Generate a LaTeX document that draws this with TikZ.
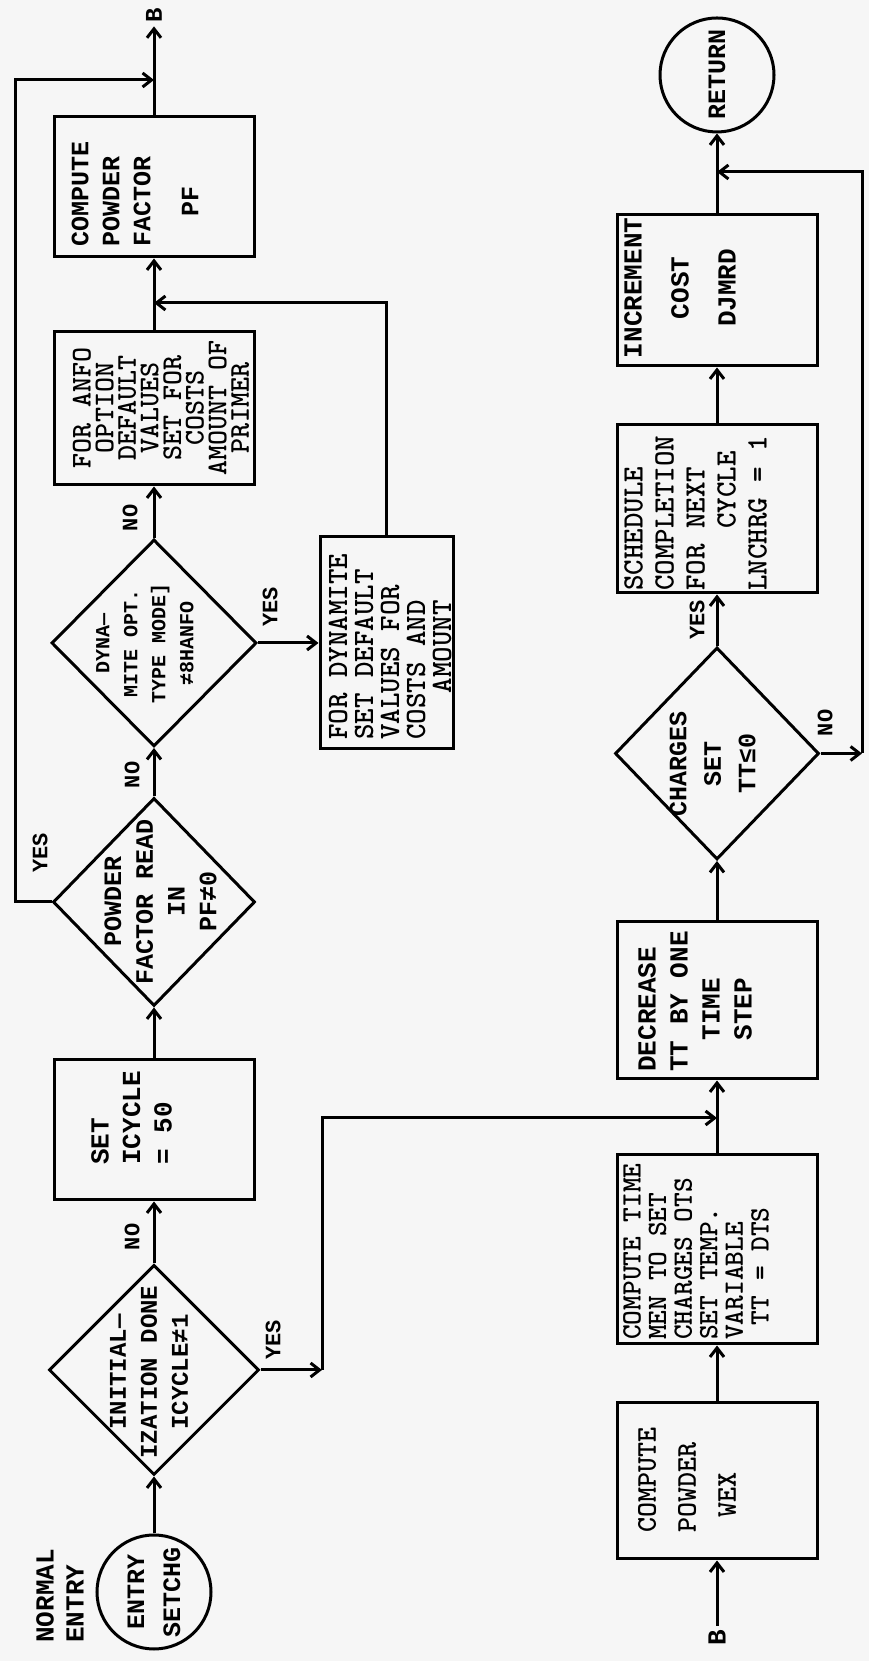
\documentclass[tikz,border=0pt]{standalone}
\usepackage{fontspec}
\newfontfamily\mono{Liberation Mono}
\usetikzlibrary{shapes.geometric,arrows.meta}
\definecolor{bg}{RGB}{246,246,246}
\tikzset{
  arr/.style={line width=3pt,-{Straight Barb[length=9pt,width=14pt]}},
  box/.style={draw,line width=3pt,rectangle,inner sep=0pt},
  dia/.style={draw,line width=3pt,diamond,inner sep=0pt},
  term/.style={draw,line width=3pt,circle,inner sep=0pt,minimum size=114pt},
  txt/.style n args={3}{font={\mono#1\fontsize{#2}{#3}\selectfont},inner sep=0pt},
  ctxt/.style n args={2}{font={\ttfamily\bfseries\fontsize{#1}{#2}\selectfont},inner sep=0pt},
  lab/.style={font={\mono\bfseries\fontsize{22}{22}\selectfont},inner sep=0pt},
}
\begin{document}
\begin{tikzpicture}[x=1pt,y=1pt,rotate=90,transform shape]
\path[use as bounding box,fill=bg] (0,0) rectangle (1661,-869);

% ---------- upper row ----------
\node[txt={\bfseries}{26}{30},align=left,anchor=west] (nentry) at (18,-60) {NORMAL\\ENTRY};
\node[term,txt={\bfseries}{25}{36},align=center] (entry) at (69,-154) {ENTRY\\SETCHG};
\node[dia,minimum width=210pt,minimum height=210pt] (d1) at (291,-154) {};
\node[txt={\bfseries}{24}{31},align=center] (d1t) at (289,-149) {INITIAL—\\IZATION DONE\\ICYCLE≠1};
\node[box,minimum width=140pt,minimum height=200pt] (set) at (531,-154) {};
\node[txt={\bfseries}{26}{31.5},align=left,anchor=west] (sett) at (496,-131.5) {SET\\ICYCLE\\= 50};
\node[dia,minimum width=208pt,minimum height=202pt] (d2) at (759,-154) {};
\node[txt={\bfseries}{25}{31.7},align=center] (d2t) at (759,-160.5) {POWDER\\FACTOR READ\\IN\\PF≠0};
\node[dia,minimum width=207pt,minimum height=205pt] (d3) at (1018,-154) {};
\node[txt={\bfseries}{20}{28},align=center] (d3t) at (1017,-145) {DYNA—\\MITE OPT.\\TYPE MODE]\\≠8HANFO};
\node[box,minimum width=153pt,minimum height=200pt] (anfo) at (1252.5,-154) {};
\node[ctxt={28.6}{22.6},align=center] (anfot) at (1253,-161) {FOR ANFO\\OPTION\\DEFAULT\\VALUES\\SET FOR\\COSTS\\AMOUNT OF\\PRIMER};
\node[box,minimum width=212pt,minimum height=133pt] (dyn) at (1018,-386.5) {};
\node[ctxt={29.5}{26},align=left,anchor=west] (dynt) at (921,-390) {FOR DYNAMITE\\SET DEFAULT\\VALUES FOR\\COSTS AND\\\phantom{MMM}AMOUNT};
\node[box,minimum width=140pt,minimum height=200pt] (pf) at (1474,-154) {};
\node[txt={\bfseries}{25}{31},align=left,anchor=west] (pft) at (1414,-135) {COMPUTE\\POWDER\\FACTOR\\[17pt]\phantom{MM}PF};
\node[txt={\bfseries}{24}{24},inner sep=4pt] (bt) at (1646,-154) {B};

% ---------- lower row ----------
\node[txt={\bfseries}{26}{26},inner sep=4pt] (bin) at (23,-717) {B};
\node[box,minimum width=156pt,minimum height=200pt] (wex) at (180,-717) {};
\node[ctxt={28.6}{40},align=left,anchor=west] (wext) at (128,-687) {COMPUTE\\POWDER\\\phantom{M}WEX};
\node[box,minimum width=189pt,minimum height=200pt] (ct) at (411.5,-717) {};
\node[ctxt={28}{25.6},align=left,anchor=west] (ctt) at (321,-696) {COMPUTE TIME\\MEN TO SET\\CHARGES OTS\\SET TEMP.\\VARIABLE\\\phantom{M}TT = DTS};
\node[box,minimum width=157pt,minimum height=200pt] (dec) at (660.5,-717) {};
\node[txt={\bfseries}{26}{32},align=left,anchor=west] (dect) at (589,-695) {DECREASE\\TT BY ONE\\\phantom{MM}TIME\\\phantom{MM}STEP};
\node[dia,minimum width=212pt,minimum height=204pt] (d4) at (907.5,-717) {};
\node[txt={\bfseries}{25}{34.5},align=center] (d4t) at (897,-712.5) {CHARGES\\SET\\TT≤0};
\node[box,minimum width=168pt,minimum height=200pt] (sched) at (1152,-717) {};
\node[ctxt={29.5}{31},align=left,anchor=west] (schedt) at (1070,-695.5) {SCHEDULE\\COMPLETION\\FOR NEXT\\\phantom{MMMM}CYCLE\\LNCHRG = 1};
\node[box,minimum width=151pt,minimum height=200pt] (inc) at (1370.5,-717) {};
\node[txt={\bfseries}{26}{47},align=center] (inct) at (1373,-680) {INCREMENT\\COST\\DJMRD};
\node[term,txt={\bfseries}{25}{25}] (ret) at (1586,-717) {RETURN};

% ---------- branch labels ----------
\node[lab] (no1) at (424,-132) {NO};
\node[lab] (yes1) at (321,-273) {YES};
\node[lab] (no2) at (886,-132) {NO};
\node[lab] (yes2) at (808,-40) {YES};
\node[lab] (no3) at (1143,-130) {NO};
\node[lab] (yes3) at (1054,-270) {YES};
\node[lab] (yes4) at (1041,-697) {YES};
\node[lab] (no4) at (938,-825) {NO};

% ---------- corner coordinates ----------
\coordinate (y1a) at (291,-322);
\coordinate (y1b) at (543,-322);
\coordinate (j1) at (543,-717);
\coordinate (y2a) at (759,-15);
\coordinate (y2b) at (1581,-15);
\coordinate (j3) at (1581,-154);
\coordinate (dj) at (1358,-386.5);
\coordinate (j2) at (1358,-154);
\coordinate (n4a) at (907.5,-862);
\coordinate (n4b) at (1489,-862);
\coordinate (j4) at (1489,-717);

% ---------- connectors ----------
\draw[arr] (entry) -- (d1);
\draw[arr] (d1) -- (set);
\draw[arr] (d1.south) -- (y1a);
\draw[arr] (y1a) -- (y1b) -- (j1);
\draw[arr] (set) -- (d2);
\draw[arr] (d2) -- (d3);
\draw[arr] (d2.north) -- (y2a) -- (y2b) -- (j3);
\draw[arr] (d3) -- (anfo);
\draw[arr] (d3.south) -- (dyn.north);
\draw[arr] (dyn.east) -- (dj) -- (j2);
\draw[arr] (anfo) -- (pf);
\draw[arr] (pf) -- (bt);
\draw[arr] (bin) -- (wex);
\draw[arr] (wex) -- (ct);
\draw[arr] (ct) -- (dec);
\draw[arr] (dec) -- (d4);
\draw[arr] (d4) -- (sched);
\draw[arr] (d4.south) -- (n4a);
\draw[arr] (n4a) -- (n4b) -- (j4);
\draw[arr] (sched) -- (inc);
\draw[arr] (inc) -- (ret);
\end{tikzpicture}
\end{document}
